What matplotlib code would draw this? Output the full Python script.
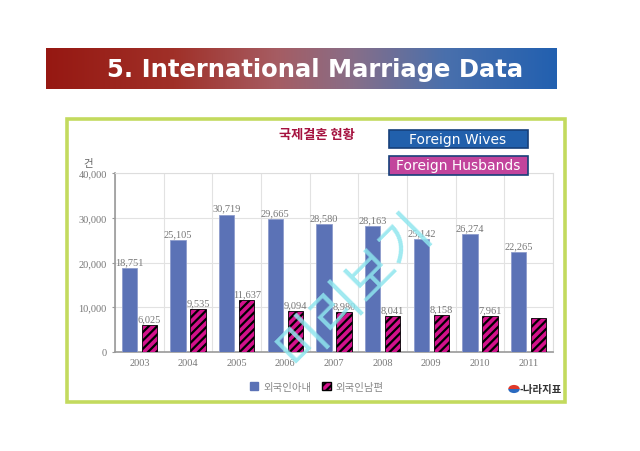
import numpy as np
import matplotlib
matplotlib.use("Agg")
import matplotlib.pyplot as plt
from matplotlib.patches import Rectangle, Patch, Wedge

plt.rcParams["font.family"] = ["DejaVu Sans", "Noto Sans CJK KR"]
plt.rcParams["hatch.linewidth"] = 1.6

# 데이터 (국제결혼 현황, 건)
years = ["2003", "2004", "2005", "2006", "2007", "2008", "2009", "2010", "2011"]
wives = [18751, 25105, 30719, 29665, 28580, 28163, 25142, 26274, 22265]
husbands = [6025, 9535, 11637, 9094, 8980, 8041, 8158, 7961, 7500]
husband_labels = ["6,025", "9,535", "11,637", "9,094", "8,980", "8,041", "8,158", "7,961", ""]

W, H = 640, 452
fig = plt.figure(figsize=(W / 100, H / 100), dpi=100)
fig.patch.set_facecolor("white")


def fx(px):
    return px / W


def fy(py):
    return 1 - py / H


# --- 제목 배너 (빨강 -> 파랑 그라데이션) ---
bx = fig.add_axes([fx(46), fy(90), fx(557 - 46), (90 - 49) / H])
stops = np.array([
    [0.00, 0x96, 0x18, 0x12],
    [0.25, 0xa0, 0x30, 0x28],
    [0.45, 0xa6, 0x5c, 0x62],
    [0.60, 0x88, 0x6e, 0x88],
    [0.78, 0x4a, 0x70, 0xac],
    [1.00, 0x22, 0x60, 0xb0],
])
t = np.linspace(0, 1, 400)
grad = np.stack([np.interp(t, stops[:, 0], stops[:, i]) / 255 for i in (1, 2, 3)], axis=-1)
bx.imshow(grad[None, :, :], aspect="auto", extent=[0, 1, 0, 1])
bx.set_axis_off()
fig.text(fx(315), fy(70), "5. International Marriage Data", color="white",
         fontsize=17.5, fontweight="bold", ha="center", va="center")

# --- 녹색 테두리 ---
fig.patches.append(Rectangle((fx(67), fy(403)), fx(565 - 67), (403 - 120) / H,
                             transform=fig.transFigure, fill=False,
                             edgecolor="#c3da5e", linewidth=2.6))

# --- 차트 ---
ax = fig.add_axes([fx(115), fy(353), fx(553 - 115), (353 - 174) / H])
x = np.arange(len(years))
bw = 0.31
off = 0.205
ax.bar(x - off, wives, bw, color="#5b72b6", edgecolor="#8e9ccc", linewidth=0.6, zorder=3)
ax.bar(x + off, husbands, bw, color="#d3118c", edgecolor="black", hatch="////",
       linewidth=0.6, zorder=3)

serif = ["Liberation Serif", "DejaVu Serif"]
for xi, v in zip(x, wives):
    ax.text(xi - off, v + 400, f"{v:,}", ha="center", va="bottom", fontsize=7.5,
            color="#777777", family=serif, zorder=4)
for xi, v, lab in zip(x, husbands, husband_labels):
    if lab:
        ax.text(xi + off, v + 400, lab, ha="center", va="bottom", fontsize=7.5,
                color="#777777", family=serif, zorder=4)

ax.set_xlim(-0.5, len(years) - 0.5)
ax.set_ylim(0, 40000)
ax.set_yticks([0, 10000, 20000, 30000, 40000])
ax.set_yticklabels(["0", "10,000", "20,000", "30,000", "40,000"], family=serif,
                   fontsize=7.5, color="#777777")
ax.set_xticks(x)
ax.set_xticklabels(years, family=serif, fontsize=7.5, color="#777777")
ax.set_xticks(np.arange(-0.5, len(years), 1), minor=True)
ax.tick_params(axis="x", which="both", length=0, pad=4)
ax.tick_params(axis="y", length=2, color="#999999", pad=4)
ax.grid(axis="y", which="major", color="#e2e2e2", linewidth=0.8, zorder=0)
ax.grid(axis="x", which="minor", color="#e2e2e2", linewidth=0.8, zorder=0)
for s in ("top", "right"):
    ax.spines[s].set_color("#dddddd")
for s in ("left", "bottom"):
    ax.spines[s].set_color("#999999")
    ax.spines[s].set_linewidth(1.2)

fig.text(fx(88), fy(164), "건", fontsize=7.5, color="#666666", ha="center", va="center",
         family=["Noto Sans CJK KR"])
fig.text(fx(317), fy(135), "국제결혼 현황", fontsize=9.5, color="#a5123f", fontweight="bold",
         ha="center", va="center", family=["Noto Sans CJK KR"])

# --- 영문 범례 박스 ---
fig.patches.append(Rectangle((fx(389), fy(149)), fx(528 - 389), (149 - 131) / H,
                             transform=fig.transFigure, facecolor="#2160ac",
                             edgecolor="#17407a", linewidth=1.2, zorder=4))
fig.patches.append(Rectangle((fx(389), fy(176)), fx(528 - 389), (176 - 157) / H,
                             transform=fig.transFigure, facecolor="#c2449c",
                             edgecolor="#17407a", linewidth=1.2, zorder=4))
fig.text(fx(458), fy(140), "Foreign Wives", fontsize=10, color="white", ha="center",
         va="center", zorder=5)
fig.text(fx(458), fy(166), "Foreign Husbands", fontsize=10, color="white", ha="center",
         va="center", zorder=5)

# --- 하단 범례 ---
handles = [Patch(facecolor="#5b72b6", edgecolor="#5b72b6"),
           Patch(facecolor="#d3118c", edgecolor="black", hatch="////")]
leg = fig.legend(handles, ["외국인아내", "외국인남편"], loc="center",
                 bbox_to_anchor=(fx(317), fy(388)), ncol=2, frameon=False,
                 prop={"family": ["Noto Sans CJK KR"], "size": 7.5},
                 handlelength=0.8, handleheight=0.8, handletextpad=0.5, columnspacing=1.0)
for txt in leg.get_texts():
    txt.set_color("#888888")

# --- 출처 로고 ---
fig.patches.append(Wedge((fx(514), fy(390)), 0.009, 0, 180, transform=fig.transFigure,
                         facecolor="#e03a2a", edgecolor="none"))
fig.patches.append(Wedge((fx(514), fy(390)), 0.009, 180, 360, transform=fig.transFigure,
                         facecolor="#2a6ac0", edgecolor="none"))
fig.text(fx(520), fy(390), "-나라지표", fontsize=7.5, fontweight="bold", color="#333333",
         ha="left", va="center", family=["Noto Sans CJK KR"])

# --- 워터마크 ---
fig.text(fx(355), fy(290), "미리보기", fontsize=38, color="#8fe6ee", alpha=0.85,
         rotation=45, ha="center", va="center", family=["Noto Sans CJK KR"], zorder=10)

fig.savefig("out.png", dpi=100)
